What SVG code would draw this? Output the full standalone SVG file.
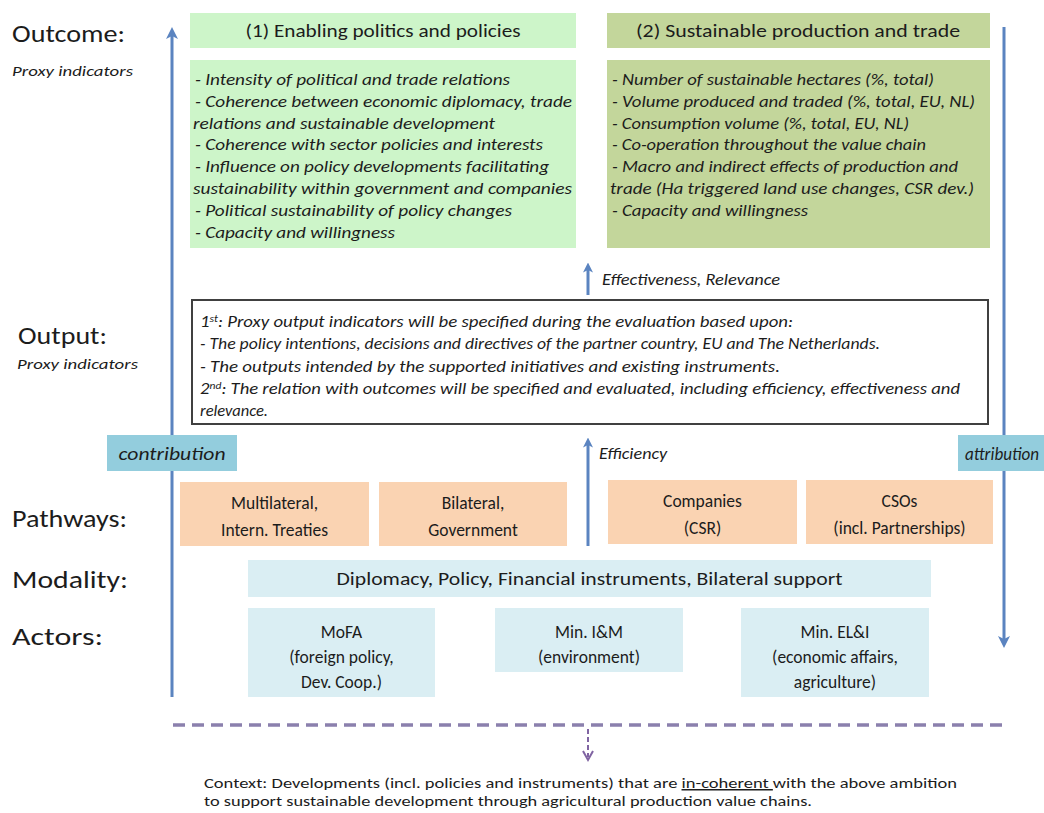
<svg xmlns="http://www.w3.org/2000/svg" width="1044" height="813" viewBox="0 0 1044 813">
<defs>
<style>
text{font-family:Carlito,Lato,"Liberation Sans",sans-serif;fill:#1c1c1c}
.lbl{font-size:25px}
.px{font-size:15px;font-style:italic}
.hd{font-size:18px;text-anchor:middle}
.bd{font-size:16px;font-style:italic}
.ctr{font-size:17.5px;text-anchor:middle}
.g1{fill:#cdf5c9}
.g2{fill:#c3d69b}
.pk{fill:#fad3b2}
.lb{fill:#daeef3}
.tq{fill:#93cddd}
.arr{stroke:#5b84c0;stroke-width:3;fill:none}
</style>
<marker id="ah" markerUnits="userSpaceOnUse" viewBox="0 0 12 12" markerWidth="12" markerHeight="12" refX="3" refY="6" orient="auto">
<path d="M0,0 L12,6 L0,12 L3,6 z" fill="#5b84c0"/>
</marker>
<marker id="ahs" markerUnits="userSpaceOnUse" viewBox="0 0 12 12" markerWidth="10" markerHeight="10" refX="3" refY="6" orient="auto">
<path d="M0,0 L12,6 L0,12 L3,6 z" fill="#5b84c0"/>
</marker>
</defs>
<rect width="1044" height="813" fill="#ffffff"/>

<g id="labels">
<text class="lbl" x="12" y="42" textLength="113" lengthAdjust="spacingAndGlyphs">Outcome:</text>
<text class="px" x="12" y="76" textLength="121" lengthAdjust="spacingAndGlyphs">Proxy indicators</text>
<text class="lbl" x="18" y="344" textLength="89" lengthAdjust="spacingAndGlyphs">Output:</text>
<text class="px" x="17" y="369" textLength="121" lengthAdjust="spacingAndGlyphs">Proxy indicators</text>
<text class="lbl" x="12" y="527" textLength="115" lengthAdjust="spacingAndGlyphs">Pathways:</text>
<text class="lbl" x="12" y="588" textLength="116" lengthAdjust="spacingAndGlyphs">Modality:</text>
<text class="lbl" x="12" y="645" textLength="91" lengthAdjust="spacingAndGlyphs">Actors:</text>
</g>

<g id="connectors">
<line class="arr" x1="172" y1="697" x2="172" y2="36" marker-end="url(#ah)"/>
<line class="arr" x1="1004" y1="27" x2="1004" y2="639" marker-end="url(#ah)"/>
<line class="arr" x1="588" y1="295" x2="588" y2="270" marker-end="url(#ahs)"/>
<line class="arr" x1="588" y1="546" x2="588" y2="445" marker-end="url(#ahs)"/>
<line x1="173" y1="725" x2="1005" y2="725" stroke="#8b80ad" stroke-width="3.5" stroke-dasharray="12,7"/>
<line x1="588" y1="729" x2="588" y2="757" stroke="#8064a2" stroke-width="2" stroke-dasharray="5,3"/>
<polyline points="583,751 588,760 593,751" fill="none" stroke="#8064a2" stroke-width="2"/>
</g>

<g id="outcome1">
<rect class="g1" x="190" y="13" width="386" height="35"/>
<text class="hd" x="383" y="37" textLength="275" lengthAdjust="spacingAndGlyphs">(1) Enabling politics and policies</text>
</g>
<g id="outcome2">
<rect class="g2" x="607" y="13" width="383" height="35"/>
<text class="hd" x="798" y="37" textLength="324" lengthAdjust="spacingAndGlyphs">(2) Sustainable production and trade</text>
</g>

<g id="indicators1">
<rect class="g1" x="190" y="60" width="386" height="188"/>
<text class="bd" x="195" y="85" textLength="315" lengthAdjust="spacingAndGlyphs">- Intensity of political and trade relations</text>
<text class="bd" x="195" y="107" textLength="377" lengthAdjust="spacingAndGlyphs">- Coherence between economic diplomacy, trade</text>
<text class="bd" x="193" y="129" textLength="302" lengthAdjust="spacingAndGlyphs">relations and sustainable development</text>
<text class="bd" x="195" y="150" textLength="348" lengthAdjust="spacingAndGlyphs">- Coherence with sector policies and interests</text>
<text class="bd" x="195" y="172" textLength="354" lengthAdjust="spacingAndGlyphs">- Influence on policy developments facilitating</text>
<text class="bd" x="193" y="194" textLength="379" lengthAdjust="spacingAndGlyphs">sustainability within government and companies</text>
<text class="bd" x="195" y="216" textLength="317" lengthAdjust="spacingAndGlyphs">- Political sustainability of policy changes</text>
<text class="bd" x="195" y="238" textLength="200" lengthAdjust="spacingAndGlyphs">- Capacity and willingness</text>
</g>

<g id="indicators2">
<rect class="g2" x="607" y="60" width="383" height="188"/>
<text class="bd" x="612" y="85" textLength="322" lengthAdjust="spacingAndGlyphs">- Number of sustainable hectares (%, total)</text>
<text class="bd" x="612" y="107" textLength="363" lengthAdjust="spacingAndGlyphs">- Volume produced and traded (%, total, EU, NL)</text>
<text class="bd" x="612" y="129" textLength="297" lengthAdjust="spacingAndGlyphs">- Consumption volume (%, total, EU, NL)</text>
<text class="bd" x="612" y="150" textLength="314" lengthAdjust="spacingAndGlyphs">- Co-operation throughout the value chain</text>
<text class="bd" x="612" y="172" textLength="346" lengthAdjust="spacingAndGlyphs">- Macro and indirect effects of production and</text>
<text class="bd" x="610" y="194" textLength="364" lengthAdjust="spacingAndGlyphs">trade (Ha triggered land use changes, CSR dev.)</text>
<text class="bd" x="612" y="216" textLength="196" lengthAdjust="spacingAndGlyphs">- Capacity and willingness</text>
</g>

<g id="effectiveness">
<text class="bd" x="602" y="285" textLength="178" lengthAdjust="spacingAndGlyphs">Effectiveness, Relevance</text>
</g>

<g id="output">
<rect x="192" y="300" width="796" height="124" fill="#ffffff" stroke="#404040" stroke-width="2"/>
<text class="bd" x="200" y="327" textLength="593" lengthAdjust="spacingAndGlyphs">1<tspan dy="-5" font-size="10">st</tspan><tspan dy="5">: Proxy output indicators will be specified during the evaluation based upon:</tspan></text>
<text class="bd" x="200" y="349" textLength="680" lengthAdjust="spacingAndGlyphs">- The policy intentions, decisions and directives of the partner country, EU and The Netherlands.</text>
<text class="bd" x="200" y="372" textLength="580" lengthAdjust="spacingAndGlyphs">- The outputs intended by the supported initiatives and existing instruments.</text>
<text class="bd" x="200" y="394" textLength="760" lengthAdjust="spacingAndGlyphs">2<tspan dy="-5" font-size="10">nd</tspan><tspan dy="5">: The relation with outcomes will be specified and evaluated, including efficiency, effectiveness and</tspan></text>
<text class="bd" x="200" y="416" textLength="68" lengthAdjust="spacingAndGlyphs">relevance.</text>
</g>

<g id="efficiency">
<text class="bd" x="599" y="459" textLength="68" lengthAdjust="spacingAndGlyphs">Efficiency</text>
</g>

<g id="contribution">
<rect class="tq" x="107" y="435" width="130" height="36"/>
<text x="172" y="460" font-size="18" font-style="italic" text-anchor="middle" textLength="107" lengthAdjust="spacingAndGlyphs">contribution</text>
</g>
<g id="attribution">
<rect class="tq" x="958" y="435" width="86" height="36"/>
<text x="965" y="460" font-size="18" font-style="italic" textLength="74" lengthAdjust="spacingAndGlyphs">attribution</text>
</g>

<g id="pathway-multilateral">
<rect class="pk" x="180" y="482" width="189" height="64"/>
<text class="ctr" x="274.5" y="509">Multilateral,</text>
<text class="ctr" x="274.5" y="536">Intern. Treaties</text>
</g>
<g id="pathway-bilateral">
<rect class="pk" x="379" y="482" width="188" height="64"/>
<text class="ctr" x="473" y="509">Bilateral,</text>
<text class="ctr" x="473" y="536">Government</text>
</g>
<g id="pathway-companies">
<rect class="pk" x="608" y="480" width="189" height="64"/>
<text class="ctr" x="702.5" y="507">Companies</text>
<text class="ctr" x="702.5" y="534">(CSR)</text>
</g>
<g id="pathway-csos">
<rect class="pk" x="806" y="480" width="187" height="64"/>
<text class="ctr" x="899.5" y="507">CSOs</text>
<text class="ctr" x="899.5" y="534">(incl. Partnerships)</text>
</g>

<g id="modality">
<rect class="lb" x="248" y="560" width="683" height="37"/>
<text class="ctr" x="589.5" y="585" textLength="506" lengthAdjust="spacingAndGlyphs">Diplomacy, Policy, Financial instruments, Bilateral support</text>
</g>

<g id="actor-mofa">
<rect class="lb" x="248" y="608" width="187" height="89"/>
<text class="ctr" x="341.5" y="638">MoFA</text>
<text class="ctr" x="341.5" y="663">(foreign policy,</text>
<text class="ctr" x="341.5" y="688">Dev. Coop.)</text>
</g>
<g id="actor-im">
<rect class="lb" x="495" y="608" width="188" height="64"/>
<text class="ctr" x="589" y="638">Min. I&amp;M</text>
<text class="ctr" x="589" y="663">(environment)</text>
</g>
<g id="actor-eli">
<rect class="lb" x="741" y="608" width="188" height="89"/>
<text class="ctr" x="835" y="638">Min. EL&amp;I</text>
<text class="ctr" x="835" y="663">(economic affairs,</text>
<text class="ctr" x="835" y="688">agriculture)</text>
</g>

<g id="context">
<text x="204" y="788" font-size="15" textLength="753" lengthAdjust="spacingAndGlyphs">Context: Developments (incl. policies and instruments) that are <tspan text-decoration="underline">in-coherent </tspan>with the above ambition</text>
<text x="204" y="806" font-size="15" textLength="608" lengthAdjust="spacingAndGlyphs">to support sustainable development through agricultural production value chains.</text>
</g>
</svg>
